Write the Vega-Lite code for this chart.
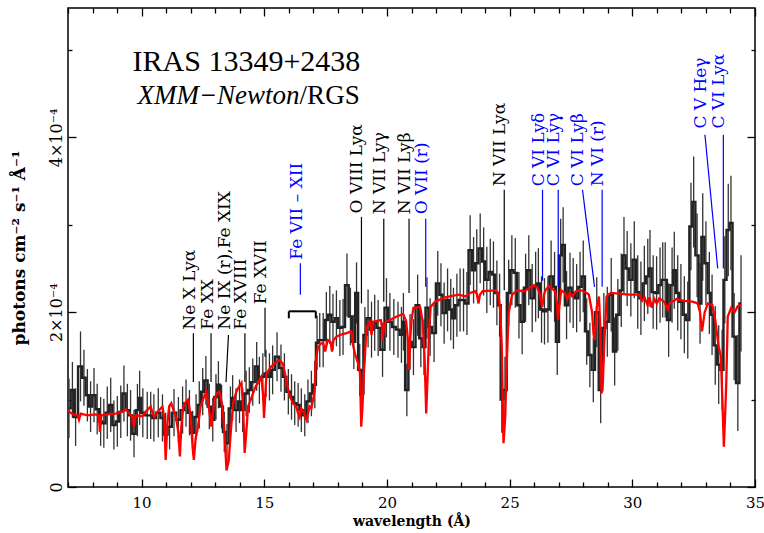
{
  "$schema": "https://vega.github.io/schema/vega-lite/v6.json",
  "width": 687,
  "height": 479,
  "autosize": {"type": "none"},
  "padding": {"left": 68, "top": 8, "right": 9, "bottom": 46},
  "background": "white",
  "config": {"view": {"stroke": "#000", "strokeWidth": 1.5}, "font": "DejaVu Serif"},
  "datasets": {
    "spec": [
      {"w":7.04,"f":0.90,"e":0.34},{"w":7.18,"f":1.11,"e":0.32},{"w":7.31,"f":0.80,"e":0.33},{"w":7.51,"f":1.38,"e":0.40},{"w":7.65,"f":1.25,"e":0.32},{"w":7.79,"f":1.05,"e":0.30},{"w":7.92,"f":0.92,"e":0.29},{"w":8.06,"f":1.05,"e":0.31},{"w":8.19,"f":0.89,"e":0.29},{"w":8.33,"f":0.75,"e":0.28},{"w":8.46,"f":0.73,"e":0.28},{"w":8.60,"f":0.85,"e":0.30},{"w":8.74,"f":0.94,"e":0.31},{"w":8.87,"f":0.71,"e":0.28},{"w":9.01,"f":0.75,"e":0.29},{"w":9.15,"f":0.86,"e":0.30},{"w":9.28,"f":1.07,"e":0.32},{"w":9.42,"f":0.88,"e":0.30},{"w":9.55,"f":0.82,"e":0.29},{"w":9.69,"f":0.61,"e":0.27},{"w":9.83,"f":0.88,"e":0.30},{"w":9.92,"f":1.02,"e":0.31},{"w":10.05,"f":0.85,"e":0.28},{"w":10.23,"f":0.82,"e":0.27},{"w":10.37,"f":0.82,"e":0.27},{"w":10.50,"f":0.79,"e":0.27},{"w":10.68,"f":0.85,"e":0.28},{"w":10.85,"f":0.79,"e":0.27},{"w":10.98,"f":0.60,"e":0.25},{"w":11.14,"f":0.69,"e":0.26},{"w":11.32,"f":0.85,"e":0.27},{"w":11.50,"f":0.77,"e":0.26},
      {"w":11.67,"f":0.88,"e":0.27},{"w":11.81,"f":0.96,"e":0.27},{"w":11.95,"f":0.85,"e":0.26},{"w":12.08,"f":0.62,"e":0.25},{"w":12.22,"f":0.80,"e":0.26},{"w":12.35,"f":0.94,"e":0.27},{"w":12.49,"f":1.09,"e":0.27},{"w":12.62,"f":1.22,"e":0.28},{"w":12.76,"f":0.92,"e":0.26},{"w":12.90,"f":0.77,"e":0.25},{"w":13.03,"f":1.03,"e":0.26},{"w":13.13,"f":1.17,"e":0.27},{"w":13.26,"f":0.92,"e":0.25},{"w":13.37,"f":0.63,"e":0.23},{"w":13.48,"f":0.50,"e":0.22},{"w":13.62,"f":0.90,"e":0.25},{"w":13.71,"f":1.02,"e":0.26},{"w":13.85,"f":0.88,"e":0.25},{"w":13.99,"f":0.98,"e":0.25},{"w":14.12,"f":0.88,"e":0.25},{"w":14.26,"f":1.07,"e":0.26},{"w":14.39,"f":1.11,"e":0.26},{"w":14.53,"f":1.20,"e":0.27},{"w":14.69,"f":1.38,"e":0.28},{"w":14.80,"f":1.22,"e":0.27},{"w":14.94,"f":1.26,"e":0.27},{"w":15.07,"f":1.30,"e":0.27},{"w":15.21,"f":1.26,"e":0.27},{"w":15.34,"f":1.34,"e":0.28},{"w":15.52,"f":1.49,"e":0.28},{"w":15.68,"f":1.36,"e":0.27},{"w":15.82,"f":1.26,"e":0.27},{"w":15.98,"f":1.09,"e":0.26},
      {"w":16.11,"f":1.03,"e":0.26},{"w":16.24,"f":0.96,"e":0.25},{"w":16.38,"f":0.94,"e":0.25},{"w":16.51,"f":0.88,"e":0.25},{"w":16.65,"f":0.82,"e":0.24},{"w":16.78,"f":0.98,"e":0.25},{"w":16.92,"f":1.07,"e":0.26},{"w":17.06,"f":1.17,"e":0.27},{"w":17.15,"f":1.65,"e":0.31},{"w":17.26,"f":1.68,"e":0.31},{"w":17.40,"f":1.68,"e":0.31},{"w":17.53,"f":1.91,"e":0.32},{"w":17.67,"f":1.97,"e":0.33},{"w":17.80,"f":1.89,"e":0.32},{"w":17.94,"f":1.93,"e":0.32},{"w":18.08,"f":1.82,"e":0.32},{"w":18.21,"f":1.83,"e":0.32},{"w":18.37,"f":2.31,"e":0.36},{"w":18.51,"f":1.95,"e":0.33},{"w":18.65,"f":1.66,"e":0.31},{"w":18.76,"f":2.22,"e":0.35},{"w":18.89,"f":1.34,"e":0.30},{"w":18.98,"f":1.07,"e":0.28},{"w":19.10,"f":1.74,"e":0.32},{"w":19.23,"f":1.93,"e":0.33},{"w":19.37,"f":1.80,"e":0.32},{"w":19.50,"f":1.88,"e":0.32},{"w":19.64,"f":1.82,"e":0.32},{"w":19.82,"f":1.57,"e":0.31},{"w":19.98,"f":2.05,"e":0.34},{"w":20.12,"f":1.89,"e":0.33},{"w":20.28,"f":1.83,"e":0.32},{"w":20.45,"f":1.80,"e":0.32},{"w":20.59,"f":1.74,"e":0.32},
      {"w":20.67,"f":1.89,"e":0.33},{"w":20.81,"f":1.11,"e":0.30},{"w":20.94,"f":1.66,"e":0.32},{"w":21.08,"f":1.60,"e":0.32},{"w":21.25,"f":2.08,"e":0.35},{"w":21.38,"f":1.70,"e":0.33},{"w":21.51,"f":1.60,"e":0.32},{"w":21.63,"f":2.05,"e":0.35},{"w":21.76,"f":1.83,"e":0.33},{"w":21.92,"f":1.76,"e":0.33},{"w":22.07,"f":2.33,"e":0.37},{"w":22.20,"f":2.20,"e":0.36},{"w":22.33,"f":1.99,"e":0.35},{"w":22.47,"f":2.14,"e":0.36},{"w":22.60,"f":2.03,"e":0.35},{"w":22.71,"f":1.93,"e":0.35},{"w":22.85,"f":2.08,"e":0.36},{"w":22.98,"f":2.14,"e":0.36},{"w":23.12,"f":2.14,"e":0.36},{"w":23.26,"f":2.10,"e":0.36},{"w":23.39,"f":2.71,"e":0.40},{"w":23.53,"f":2.48,"e":0.38},{"w":23.66,"f":2.56,"e":0.39},{"w":23.80,"f":2.73,"e":0.40},{"w":23.94,"f":2.58,"e":0.39},{"w":24.07,"f":2.37,"e":0.38},{"w":24.21,"f":2.46,"e":0.38},{"w":24.34,"f":2.43,"e":0.38},{"w":24.48,"f":2.22,"e":0.37},{"w":24.59,"f":2.08,"e":0.36},{"w":24.68,"f":1.00,"e":0.38},{"w":24.81,"f":1.11,"e":0.38},{"w":24.96,"f":2.22,"e":0.38},{"w":25.09,"f":2.48,"e":0.40},{"w":25.23,"f":2.45,"e":0.40},
      {"w":25.38,"f":2.08,"e":0.38},{"w":25.51,"f":1.89,"e":0.37},{"w":25.65,"f":2.28,"e":0.39},{"w":25.78,"f":2.48,"e":0.40},{"w":25.92,"f":2.16,"e":0.39},{"w":26.06,"f":2.29,"e":0.40},{"w":26.17,"f":2.33,"e":0.40},{"w":26.30,"f":2.03,"e":0.38},{"w":26.42,"f":2.01,"e":0.38},{"w":26.56,"f":2.03,"e":0.38},{"w":26.69,"f":2.41,"e":0.41},{"w":26.83,"f":2.29,"e":0.40},{"w":26.94,"f":1.66,"e":0.38},{"w":27.08,"f":2.65,"e":0.42},{"w":27.18,"f":2.77,"e":0.43},{"w":27.32,"f":2.08,"e":0.39},{"w":27.46,"f":2.28,"e":0.40},{"w":27.59,"f":2.22,"e":0.40},{"w":27.73,"f":2.16,"e":0.39},{"w":27.87,"f":2.29,"e":0.40},{"w":28.00,"f":2.41,"e":0.41},{"w":28.14,"f":1.78,"e":0.38},{"w":28.27,"f":1.51,"e":0.37},{"w":28.41,"f":1.34,"e":0.37},{"w":28.55,"f":2.00,"e":0.40},{"w":28.71,"f":1.11,"e":0.38},{"w":28.84,"f":1.82,"e":0.40},{"w":28.98,"f":1.89,"e":0.40},{"w":29.14,"f":2.20,"e":0.42},{"w":29.28,"f":1.55,"e":0.39},{"w":29.41,"f":1.97,"e":0.41},{"w":29.55,"f":2.25,"e":0.42},{"w":29.66,"f":2.65,"e":0.44},{"w":29.79,"f":2.50,"e":0.43},
      {"w":29.94,"f":2.37,"e":0.42},{"w":30.08,"f":2.60,"e":0.44},{"w":30.22,"f":2.23,"e":0.42},{"w":30.35,"f":2.16,"e":0.42},{"w":30.49,"f":2.33,"e":0.43},{"w":30.63,"f":2.41,"e":0.43},{"w":30.72,"f":2.50,"e":0.44},{"w":30.85,"f":2.23,"e":0.42},{"w":30.99,"f":2.22,"e":0.42},{"w":31.13,"f":2.31,"e":0.43},{"w":31.24,"f":2.37,"e":0.43},{"w":31.34,"f":2.37,"e":0.43},{"w":31.48,"f":1.91,"e":0.42},{"w":31.62,"f":2.31,"e":0.43},{"w":31.71,"f":2.48,"e":0.44},{"w":31.85,"f":2.22,"e":0.43},{"w":31.98,"f":2.12,"e":0.43},{"w":32.12,"f":1.97,"e":0.44},{"w":32.26,"f":1.91,"e":0.44},{"w":32.39,"f":2.98,"e":0.50},{"w":32.50,"f":3.26,"e":0.52},{"w":32.64,"f":2.65,"e":0.48},{"w":32.76,"f":2.10,"e":0.46},{"w":32.87,"f":2.86,"e":0.50},{"w":33.00,"f":2.56,"e":0.48},{"w":33.14,"f":2.22,"e":0.47},{"w":33.25,"f":1.97,"e":0.46},{"w":33.38,"f":1.62,"e":0.45},{"w":33.52,"f":1.40,"e":0.45},{"w":33.66,"f":1.34,"e":0.46},{"w":33.77,"f":2.37,"e":0.50},{"w":33.91,"f":2.94,"e":0.53},{"w":34.02,"f":3.02,"e":0.54},{"w":34.15,"f":1.72,"e":0.50},{"w":34.30,"f":1.19,"e":0.55},{"w":34.43,"f":2.10,"e":0.55}
    ],
    "model": [
      {"w":7.00,"f":0.88},{"w":7.10,"f":0.85},{"w":7.31,"f":0.82},{"w":7.40,"f":0.82},{"w":7.45,"f":0.77},{"w":7.52,"f":0.84},{"w":7.80,"f":0.82},{"w":8.10,"f":0.83},{"w":8.26,"f":0.82},{"w":8.30,"f":0.63},{"w":8.36,"f":0.82},{"w":8.60,"f":0.83},{"w":8.94,"f":0.84},{"w":9.20,"f":0.86},{"w":9.35,"f":0.89},{"w":9.50,"f":0.84},{"w":9.62,"f":0.80},{"w":9.69,"f":0.69},{"w":9.76,"f":0.82},{"w":10.03,"f":0.81},{"w":10.16,"f":0.86},{"w":10.37,"f":0.92},{"w":10.45,"f":0.84},{"w":10.52,"f":0.80},{"w":10.64,"f":0.86},{"w":10.85,"f":0.92},{"w":10.92,"f":0.80},{"w":10.98,"f":0.31},{"w":11.05,"f":0.72},{"w":11.12,"f":0.92},{"w":11.21,"f":0.96},{"w":11.30,"f":0.88},{"w":11.40,"f":0.80},{"w":11.50,"f":0.62},{"w":11.56,"f":0.35},{"w":11.62,"f":0.70},{"w":11.70,"f":0.92},{"w":11.76,"f":0.96},{"w":11.90,"f":1.00},{"w":12.00,"f":0.80},{"w":12.08,"f":0.45},{"w":12.13,"f":0.31},{"w":12.20,"f":0.55},{"w":12.30,"f":0.69},{"w":12.40,"f":0.92},{"w":12.50,"f":1.00},{"w":12.64,"f":1.09},{"w":12.72,"f":0.95},{"w":12.84,"f":0.69},{"w":12.95,"f":0.95},{"w":13.05,"f":1.07},{"w":13.17,"f":1.09},{"w":13.28,"f":0.95},{"w":13.36,"f":0.70},{"w":13.46,"f":0.19},{"w":13.55,"f":0.30},{"w":13.64,"f":0.65},{"w":13.73,"f":0.96},{"w":13.85,"f":1.08},{"w":13.93,"f":1.13},{"w":14.07,"f":1.19},{"w":14.14,"f":0.90},{"w":14.20,"f":0.39},{"w":14.26,"f":0.60},{"w":14.34,"f":0.92},{"w":14.45,"f":1.00},{"w":14.54,"f":1.07},{"w":14.65,"f":1.15},{"w":14.74,"f":1.19},{"w":14.88,"f":1.26},{"w":14.95,"f":1.05},{"w":14.99,"f":0.79},{"w":15.04,"f":1.05},{"w":15.09,"f":1.30},{"w":15.29,"f":1.38},{"w":15.50,"f":1.43},{"w":15.63,"f":1.45},{"w":15.76,"f":1.41},{"w":15.90,"f":1.22},{"w":16.00,"f":1.08},{"w":16.10,"f":1.00},{"w":16.20,"f":0.95},{"w":16.30,"f":0.92},{"w":16.37,"f":0.85},{"w":16.44,"f":0.80},{"w":16.50,"f":0.90},{"w":16.57,"f":0.88},{"w":16.65,"f":0.82},{"w":16.72,"f":0.77},{"w":16.80,"f":0.86},{"w":16.85,"f":0.92},{"w":16.92,"f":0.90},{"w":16.99,"f":1.00},{"w":17.05,"f":1.10},{"w":17.10,"f":1.45},{"w":17.19,"f":1.60},{"w":17.30,"f":1.64},{"w":17.40,"f":1.65},{"w":17.48,"f":1.55},{"w":17.55,"f":1.64},{"w":17.60,"f":1.68},{"w":17.70,"f":1.66},{"w":17.76,"f":1.55},{"w":17.82,"f":1.68},{"w":17.94,"f":1.72},{"w":18.10,"f":1.74},{"w":18.35,"f":1.76},{"w":18.55,"f":1.78},{"w":18.62,"f":1.62},{"w":18.70,"f":1.52},{"w":18.82,"f":1.42},{"w":18.90,"f":1.30},{"w":18.95,"f":0.69},{"w":19.00,"f":0.90},{"w":19.06,"f":1.30},{"w":19.17,"f":1.83},{"w":19.30,"f":1.89},{"w":19.37,"f":1.74},{"w":19.44,"f":1.89},{"w":19.60,"f":1.90},{"w":19.75,"f":1.91},{"w":19.80,"f":1.82},{"w":19.83,"f":1.68},{"w":19.87,"f":1.82},{"w":19.95,"f":1.89},{"w":20.12,"f":1.91},{"w":20.40,"f":1.95},{"w":20.66,"f":1.98},{"w":20.78,"f":1.90},{"w":20.85,"f":1.70},{"w":20.90,"f":1.34},{"w":20.95,"f":1.70},{"w":21.00,"f":1.91},{"w":21.08,"f":2.05},{"w":21.35,"f":2.06},{"w":21.45,"f":1.90},{"w":21.53,"f":1.50},{"w":21.60,"f":0.84},{"w":21.66,"f":1.30},{"w":21.72,"f":1.80},{"w":21.78,"f":2.06},{"w":21.96,"f":2.12},{"w":22.37,"f":2.17},{"w":22.92,"f":2.20},{"w":23.20,"f":2.18},{"w":23.39,"f":2.22},{"w":23.60,"f":2.24},{"w":23.67,"f":2.20},{"w":23.73,"f":2.10},{"w":23.79,"f":2.20},{"w":23.90,"f":2.24},{"w":24.44,"f":2.25},{"w":24.55,"f":2.20},{"w":24.62,"f":2.00},{"w":24.68,"f":1.60},{"w":24.75,"f":0.50},{"w":24.82,"f":0.80},{"w":24.88,"f":1.40},{"w":24.96,"f":1.99},{"w":25.10,"f":2.20},{"w":25.30,"f":2.25},{"w":25.60,"f":2.24},{"w":26.00,"f":2.31},{"w":26.13,"f":2.28},{"w":26.24,"f":2.20},{"w":26.33,"f":2.06},{"w":26.40,"f":2.20},{"w":26.46,"f":2.25},{"w":26.60,"f":2.30},{"w":26.73,"f":2.27},{"w":26.85,"f":2.24},{"w":26.93,"f":2.10},{"w":26.97,"f":1.91},{"w":27.02,"f":2.05},{"w":27.10,"f":2.25},{"w":27.25,"f":2.22},{"w":27.35,"f":2.15},{"w":27.45,"f":2.22},{"w":27.55,"f":2.18},{"w":27.70,"f":2.24},{"w":27.94,"f":2.25},{"w":28.14,"f":2.22},{"w":28.23,"f":2.20},{"w":28.36,"f":2.00},{"w":28.42,"f":1.75},{"w":28.46,"f":1.68},{"w":28.50,"f":1.85},{"w":28.55,"f":2.06},{"w":28.64,"f":2.18},{"w":28.70,"f":1.80},{"w":28.75,"f":1.07},{"w":28.80,"f":1.20},{"w":28.85,"f":1.60},{"w":28.95,"f":2.18},{"w":29.12,"f":2.22},{"w":29.86,"f":2.20},{"w":30.28,"f":2.20},{"w":30.40,"f":2.13},{"w":30.50,"f":2.17},{"w":30.62,"f":2.08},{"w":30.70,"f":2.17},{"w":30.80,"f":2.05},{"w":30.90,"f":2.15},{"w":31.00,"f":2.10},{"w":31.10,"f":2.16},{"w":31.30,"f":2.12},{"w":31.45,"f":2.03},{"w":31.52,"f":2.10},{"w":31.80,"f":2.15},{"w":32.10,"f":2.13},{"w":32.46,"f":2.12},{"w":32.66,"f":2.10},{"w":32.76,"f":2.00},{"w":32.84,"f":1.78},{"w":32.90,"f":1.90},{"w":32.95,"f":2.00},{"w":33.08,"f":2.10},{"w":33.26,"f":2.08},{"w":33.38,"f":1.91},{"w":33.52,"f":1.60},{"w":33.61,"f":1.50},{"w":33.67,"f":1.00},{"w":33.73,"f":0.46},{"w":33.78,"f":0.80},{"w":33.83,"f":1.20},{"w":33.89,"f":1.95},{"w":34.03,"f":2.05},{"w":34.17,"f":2.00},{"w":34.30,"f":2.07},{"w":34.43,"f":2.08}
    ],
    "ann": [
      {"label":"Ne X Lyα","set":"k","w1":12.11,"f1":1.20,"w2":12.11,"f2":1.76,"tw":12.17,"tf":1.80},
      {"label":"Fe XX","set":"k","w1":12.83,"f1":1.20,"w2":12.83,"f2":1.76,"tw":12.89,"tf":1.80},
      {"label":"Ne IX (r),Fe XIX","set":"k","w1":13.44,"f1":1.20,"w2":13.54,"f2":1.74,"tw":13.6,"tf":1.80},
      {"label":"Fe XVIII","set":"k","w1":14.21,"f1":1.20,"w2":14.21,"f2":1.76,"tw":14.27,"tf":1.80},
      {"label":"Fe XVII","set":"k","w1":15.03,"f1":1.49,"w2":15.03,"f2":2.05,"tw":15.08,"tf":2.09},
      {"label":"Fe VII – XII","set":"b","w1":16.47,"f1":2.20,"w2":16.47,"f2":2.56,"tw":16.55,"tf":2.60},
      {"label":"O VIII Lyα","set":"k","w1":18.96,"f1":2.10,"w2":18.96,"f2":3.09,"tw":19.0,"tf":3.13},
      {"label":"N VII Lyγ","set":"k","w1":19.87,"f1":2.12,"w2":19.87,"f2":3.07,"tw":19.91,"tf":3.12},
      {"label":"N VII Lyβ","set":"k","w1":20.9,"f1":2.22,"w2":20.9,"f2":3.07,"tw":20.94,"tf":3.12},
      {"label":"O VII (r)","set":"b","w1":21.58,"f1":2.29,"w2":21.58,"f2":3.07,"tw":21.62,"tf":3.12},
      {"label":"N VII Lyα","set":"k","w1":24.78,"f1":2.25,"w2":24.78,"f2":3.4,"tw":24.82,"tf":3.44},
      {"label":"C VI Lyδ","set":"b","w1":26.34,"f1":2.36,"w2":26.34,"f2":3.4,"tw":26.38,"tf":3.44},
      {"label":"C VI Lyγ","set":"b","w1":26.98,"f1":2.29,"w2":26.98,"f2":3.4,"tw":27.02,"tf":3.44},
      {"label":"C VI Lyβ","set":"b","w1":28.46,"f1":2.29,"w2":27.97,"f2":3.4,"tw":28.01,"tf":3.44},
      {"label":"N VI (r)","set":"b","w1":28.77,"f1":2.29,"w2":28.77,"f2":3.4,"tw":28.81,"tf":3.44},
      {"label":"C V Heγ","set":"b","w1":33.48,"f1":2.5,"w2":32.96,"f2":4.03,"tw":33.0,"tf":4.1},
      {"label":"C VI Lyα","set":"b","w1":33.71,"f1":2.5,"w2":33.71,"f2":4.03,"tw":33.75,"tf":4.1}
    ],
    "bracket": [
      {"w1":16.0,"f1":2.01,"w2":17.1,"f2":2.01},
      {"w1":16.0,"f1":2.01,"w2":16.0,"f2":1.93},
      {"w1":17.1,"f1":2.01,"w2":17.1,"f2":1.93}
    ]
  },
  "layer": [
    {
      "data": {"name": "spec"},
      "mark": {"type": "errorbar", "ticks": false, "thickness": 1.3, "color": "#333333"},
      "encoding": {
        "x": {"field": "w", "type": "quantitative", "scale": {"domain": [7, 35], "nice": false, "zero": false}, "axis": null},
        "y": {"field": "f", "type": "quantitative", "scale": {"domain": [0, 5.48], "nice": false}, "axis": null},
        "yError": {"field": "e"}
      }
    },
    {
      "data": {"name": "spec"},
      "mark": {"type": "line", "interpolate": "step", "strokeWidth": 2.4, "color": "#222222"},
      "encoding": {
        "x": {"field": "w", "type": "quantitative", "scale": {"domain": [7, 35], "nice": false, "zero": false},
          "axis": {"orient": "bottom", "values": [7,8,9,10,11,12,13,14,15,16,17,18,19,20,21,22,23,24,25,26,27,28,29,30,31,32,33,34,35],
            "tickSize": {"condition": {"test": "datum.value % 5 === 0", "value": -8}, "value": -5},
            "tickColor": "#000", "tickWidth": 1.3, "domain": false, "grid": false,
            "labelExpr": "datum.value % 5 === 0 ? datum.label : ''", "labelFlush": false,
            "labelFont": "DejaVu Serif", "labelFontSize": 15, "labelColor": "#000", "labelPadding": 16,
            "title": "wavelength (Å)", "titleFont": "DejaVu Serif", "titleFontSize": 14, "titleFontWeight": "bold", "titleColor": "#000", "titlePadding": 4}},
        "y": {"field": "f", "type": "quantitative", "scale": {"domain": [0, 5.48], "nice": false},
          "axis": {"orient": "left", "values": [0,1,2,3,4,5],
            "tickSize": {"condition": {"test": "datum.value % 2 === 0", "value": -8}, "value": -4},
            "tickColor": "#000", "tickWidth": 1.3, "domain": false, "grid": false,
            "labelExpr": "datum.value === 0 ? '0' : (datum.value % 2 === 0 ? datum.value + '×10⁻⁴' : '')",
            "labelAngle": 270, "labelAlign": "center", "labelBaseline": "bottom",
            "labelFont": "DejaVu Serif", "labelFontSize": 16, "labelColor": "#000", "labelPadding": 12,
            "title": "photons cm⁻² s⁻¹ Å⁻¹", "titleFont": "DejaVu Serif", "titleFontSize": 17, "titleFontWeight": "bold", "titleColor": "#000", "titlePadding": 20}}
      }
    },
    {
      "data": {"name": "model"},
      "mark": {"type": "line", "strokeWidth": 2.3, "color": "#ff0000"},
      "encoding": {
        "x": {"field": "w", "type": "quantitative", "scale": {"domain": [7, 35], "nice": false, "zero": false},
          "axis": {"orient": "top", "values": [7,8,9,10,11,12,13,14,15,16,17,18,19,20,21,22,23,24,25,26,27,28,29,30,31,32,33,34,35],
            "tickSize": {"condition": {"test": "datum.value % 5 === 0", "value": -8}, "value": -5},
            "tickColor": "#000", "tickWidth": 1.3, "domain": false, "grid": false, "labels": false, "title": null}},
        "y": {"field": "f", "type": "quantitative", "scale": {"domain": [0, 5.48], "nice": false},
          "axis": {"orient": "right", "values": [0,1,2,3,4,5],
            "tickSize": {"condition": {"test": "datum.value % 2 === 0", "value": -8}, "value": -4},
            "tickColor": "#000", "tickWidth": 1.3, "domain": false, "grid": false, "labels": false, "title": null}}
      }
    },
    {
      "data": {"name": "ann"},
      "mark": {"type": "rule", "strokeWidth": 1.2},
      "encoding": {
        "x": {"field": "w1", "type": "quantitative", "scale": {"domain": [7, 35], "nice": false, "zero": false}, "axis": null},
        "x2": {"field": "w2"},
        "y": {"field": "f1", "type": "quantitative", "scale": {"domain": [0, 5.48], "nice": false}, "axis": null},
        "y2": {"field": "f2"},
        "color": {"field": "set", "type": "nominal", "scale": {"domain": ["k", "b"], "range": ["#000000", "#0000ff"]}, "legend": null}
      }
    },
    {
      "data": {"name": "ann"},
      "mark": {"type": "text", "angle": 270, "align": "left", "baseline": "alphabetic", "font": "DejaVu Serif", "fontSize": 17},
      "encoding": {
        "x": {"field": "tw", "type": "quantitative", "scale": {"domain": [7, 35], "nice": false, "zero": false}, "axis": null},
        "y": {"field": "tf", "type": "quantitative", "scale": {"domain": [0, 5.48], "nice": false}, "axis": null},
        "text": {"field": "label"},
        "color": {"field": "set", "type": "nominal", "scale": {"domain": ["k", "b"], "range": ["#000000", "#0000ff"]}, "legend": null}
      }
    },
    {
      "data": {"name": "bracket"},
      "mark": {"type": "rule", "strokeWidth": 2, "color": "#000"},
      "encoding": {
        "x": {"field": "w1", "type": "quantitative", "scale": {"domain": [7, 35], "nice": false, "zero": false}, "axis": null},
        "x2": {"field": "w2"},
        "y": {"field": "f1", "type": "quantitative", "scale": {"domain": [0, 5.48], "nice": false}, "axis": null},
        "y2": {"field": "f2"}
      }
    },
    {
      "data": {"values": [{"w": 9.63, "f": 4.76, "t": "IRAS 13349+2438"}]},
      "mark": {"type": "text", "align": "left", "baseline": "alphabetic", "font": "Liberation Serif", "fontSize": 30, "color": "#000"},
      "encoding": {
        "x": {"field": "w", "type": "quantitative", "scale": {"domain": [7, 35], "nice": false, "zero": false}, "axis": null},
        "y": {"field": "f", "type": "quantitative", "scale": {"domain": [0, 5.48], "nice": false}, "axis": null},
        "text": {"field": "t"}
      }
    },
    {
      "data": {"values": [{"w": 16.44, "f": 4.38, "t": "XMM−Newton"}]},
      "mark": {"type": "text", "align": "right", "baseline": "alphabetic", "font": "Liberation Serif", "fontStyle": "italic", "fontSize": 27, "color": "#000"},
      "encoding": {
        "x": {"field": "w", "type": "quantitative", "scale": {"domain": [7, 35], "nice": false, "zero": false}, "axis": null},
        "y": {"field": "f", "type": "quantitative", "scale": {"domain": [0, 5.48], "nice": false}, "axis": null},
        "text": {"field": "t"}
      }
    },
    {
      "data": {"values": [{"w": 16.44, "f": 4.38, "t": "/RGS"}]},
      "mark": {"type": "text", "align": "left", "baseline": "alphabetic", "font": "Liberation Serif", "fontSize": 27, "color": "#000"},
      "encoding": {
        "x": {"field": "w", "type": "quantitative", "scale": {"domain": [7, 35], "nice": false, "zero": false}, "axis": null},
        "y": {"field": "f", "type": "quantitative", "scale": {"domain": [0, 5.48], "nice": false}, "axis": null},
        "text": {"field": "t"}
      }
    }
  ],
  "resolve": {"axis": {"x": "independent", "y": "independent"}}
}
